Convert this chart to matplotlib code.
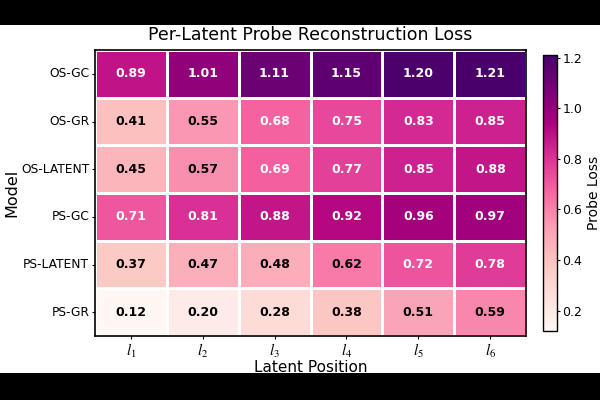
import matplotlib.pyplot as plt
import matplotlib.patches as mpatches
import numpy as np
import seaborn as sns

models = ["OS-GC", "OS-GR", "OS-LATENT", "PS-GC", "PS-LATENT", "PS-GR"]
positions = [r"$l_1$", r"$l_2$", r"$l_3$", r"$l_4$", r"$l_5$", r"$l_6$"]
loss = np.array([
    [0.89, 1.01, 1.11, 1.15, 1.20, 1.21],
    [0.41, 0.55, 0.68, 0.75, 0.83, 0.85],
    [0.45, 0.57, 0.69, 0.77, 0.85, 0.88],
    [0.71, 0.81, 0.88, 0.92, 0.96, 0.97],
    [0.37, 0.47, 0.48, 0.62, 0.72, 0.78],
    [0.12, 0.20, 0.28, 0.38, 0.51, 0.59],
])

plt.rcParams["mathtext.fontset"] = "stix"

fig = plt.figure(figsize=(6, 4), dpi=100, facecolor="black")
# white page between the black letterbox bands
fig.patches.append(mpatches.Rectangle((0, 0.0675), 1, 0.87, transform=fig.transFigure,
                                      facecolor="white", edgecolor="none", zorder=-1))

ax = fig.add_axes([0.158, 0.16, 0.719, 0.715])
cax = fig.add_axes([0.905, 0.1725, 0.023, 0.69])

sns.heatmap(loss, ax=ax, cbar_ax=cax, cmap="RdPu", annot=False,
            linewidths=0.8, linecolor="white",
            xticklabels=positions, yticklabels=models)

for i in range(loss.shape[0]):
    for j in range(loss.shape[1]):
        v = loss[i, j]
        ax.text(j + 0.5, i + 0.5, f"{v:.2f}", ha="center", va="center",
                fontsize=9, fontweight="bold",
                color="white" if v >= 0.65 else "black")

for s in ax.spines.values():
    s.set_visible(True)
    s.set_color("black")
    s.set_linewidth(1.2)
cbar = ax.collections[0].colorbar
cbar.outline.set_visible(True)
cbar.outline.set_edgecolor("black")
cbar.outline.set_linewidth(1)
cbar.set_ticks([0.2, 0.4, 0.6, 0.8, 1.0, 1.2])
cbar.ax.tick_params(labelsize=9, length=2.5, pad=1.5)
cbar.set_label("Probe Loss", fontsize=10, labelpad=3)

ax.set_title("Per-Latent Probe Reconstruction Loss", fontsize=12.5, pad=7)
ax.set_xlabel("Latent Position", fontsize=11, labelpad=0)
ax.set_ylabel("Model", fontsize=11.5, labelpad=1)
ax.tick_params(axis="x", labelsize=11, rotation=0, length=2.5, pad=2)
ax.tick_params(axis="y", labelsize=8.8, rotation=0, length=2.5, pad=1.5)

plt.savefig("out.png", dpi=100, facecolor=fig.get_facecolor())
